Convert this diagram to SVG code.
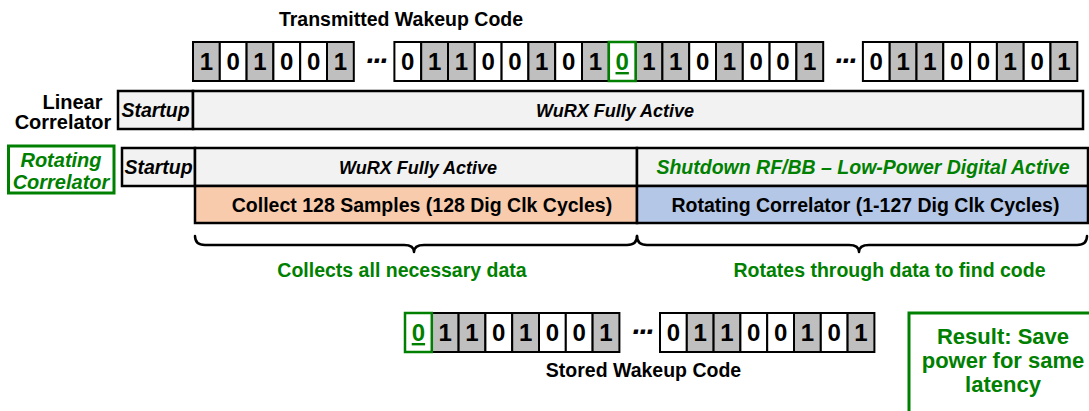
<svg xmlns="http://www.w3.org/2000/svg" width="1089" height="411" viewBox="0 0 1089 411">
<style>
text{font-family:"Liberation Sans",Arial,sans-serif;font-weight:bold;fill:#000}
.t{font-size:19.5px;text-anchor:middle}
.it{font-size:19.5px;font-style:italic;text-anchor:middle}
.w{font-size:18px;font-style:italic;text-anchor:middle}
.g{fill:#008000}
.d{font-size:24px;text-anchor:middle}
.dots{font-size:30px;font-style:italic;text-anchor:middle;letter-spacing:-3px}
.c1{fill:#bfbfbf;stroke:#000;stroke-width:2}
.c0{fill:#fff;stroke:#000;stroke-width:2}
.cg{fill:#fff;stroke:#008000;stroke-width:2.5}
.bar{stroke:#000;stroke-width:2.5}
.lg{fill:#f2f2f2}
.pe{fill:#f8cbad}
.bl{fill:#b4c7e7}
.gb{fill:#fff;stroke:#008000;stroke-width:3}
.br{fill:none;stroke:#000;stroke-width:2.5;stroke-linecap:round;stroke-linejoin:round}
.u{text-decoration:underline}
.r{font-size:22px;text-anchor:middle}
</style>

<g id="title"><text class="t" x="401" y="26">Transmitted Wakeup Code</text></g>

<g id="transmitted-code">
<rect class="c1" x="193" y="42" width="26.8" height="39"/><text class="d" x="206.4" y="70">1</text>
<rect class="c0" x="219.8" y="42" width="26.8" height="39"/><text class="d" x="233.2" y="70">0</text>
<rect class="c1" x="246.6" y="42" width="26.8" height="39"/><text class="d" x="260" y="70">1</text>
<rect class="c0" x="273.4" y="42" width="26.8" height="39"/><text class="d" x="286.8" y="70">0</text>
<rect class="c0" x="300.2" y="42" width="26.8" height="39"/><text class="d" x="313.6" y="70">0</text>
<rect class="c1" x="327" y="42" width="26.8" height="39"/><text class="d" x="340.4" y="70">1</text>
<text class="dots" x="375" y="71">···</text>
<rect class="c0" x="394.4" y="42" width="26.8" height="39"/><text class="d" x="407.8" y="70">0</text>
<rect class="c1" x="421.2" y="42" width="26.8" height="39"/><text class="d" x="434.6" y="70">1</text>
<rect class="c1" x="448" y="42" width="26.8" height="39"/><text class="d" x="461.4" y="70">1</text>
<rect class="c0" x="474.8" y="42" width="26.8" height="39"/><text class="d" x="488.2" y="70">0</text>
<rect class="c0" x="501.6" y="42" width="26.8" height="39"/><text class="d" x="515" y="70">0</text>
<rect class="c1" x="528.4" y="42" width="26.8" height="39"/><text class="d" x="541.8" y="70">1</text>
<rect class="c0" x="555.2" y="42" width="26.8" height="39"/><text class="d" x="568.6" y="70">0</text>
<rect class="c1" x="582" y="42" width="26.8" height="39"/><text class="d" x="595.4" y="70">1</text>
<rect class="c1" x="635.6" y="42" width="26.8" height="39"/><text class="d" x="649" y="70">1</text>
<rect class="c1" x="662.4" y="42" width="26.8" height="39"/><text class="d" x="675.8" y="70">1</text>
<rect class="c0" x="689.2" y="42" width="26.8" height="39"/><text class="d" x="702.6" y="70">0</text>
<rect class="c1" x="716" y="42" width="26.8" height="39"/><text class="d" x="729.4" y="70">1</text>
<rect class="c0" x="742.8" y="42" width="26.8" height="39"/><text class="d" x="756.2" y="70">0</text>
<rect class="c0" x="769.6" y="42" width="26.8" height="39"/><text class="d" x="783" y="70">0</text>
<rect class="c1" x="796.4" y="42" width="26.8" height="39"/><text class="d" x="809.8" y="70">1</text>
<rect class="cg" x="608.8" y="42" width="26.8" height="39"/><text class="d g u" x="622.2" y="70">0</text>
<text class="dots" x="844" y="71">···</text>
<rect class="c0" x="862.9" y="42" width="26.8" height="39"/><text class="d" x="876.3" y="70">0</text>
<rect class="c1" x="889.7" y="42" width="26.8" height="39"/><text class="d" x="903.1" y="70">1</text>
<rect class="c1" x="916.5" y="42" width="26.8" height="39"/><text class="d" x="929.9" y="70">1</text>
<rect class="c0" x="943.3" y="42" width="26.8" height="39"/><text class="d" x="956.7" y="70">0</text>
<rect class="c0" x="970.1" y="42" width="26.8" height="39"/><text class="d" x="983.5" y="70">0</text>
<rect class="c1" x="996.9" y="42" width="26.8" height="39"/><text class="d" x="1010.3" y="70">1</text>
<rect class="c0" x="1023.7" y="42" width="26.8" height="39"/><text class="d" x="1037.1" y="70">0</text>
<rect class="c1" x="1050.5" y="42" width="26.8" height="39"/><text class="d" x="1063.9" y="70">1</text>
</g>

<g id="linear-label">
<text class="t" x="72.5" y="109" style="font-size:20px">Linear</text>
<text class="t" x="63" y="129" style="font-size:20px">Correlator</text>
</g>

<g id="linear-startup"><rect class="bar lg" x="118" y="91" width="75" height="38"/><text class="it" x="155.5" y="117">Startup</text></g>
<g id="linear-active"><rect class="bar lg" x="193" y="91" width="890" height="38"/><text class="w" x="615" y="117">WuRX Fully Active</text></g>

<g id="rotating-label">
<rect class="gb" x="8.5" y="146" width="105.5" height="47"/>
<text class="it g" x="61" y="167" style="font-size:20px">Rotating</text>
<text class="it g" x="61" y="189" style="font-size:20px">Correlator</text>
</g>

<g id="rotating-startup"><rect class="bar lg" x="122" y="148" width="73" height="38"/><text class="it" x="158.5" y="174">Startup</text></g>
<g id="rotating-active"><rect class="bar lg" x="195" y="148" width="442" height="38"/><text class="w" x="418" y="174">WuRX Fully Active</text></g>
<g id="shutdown"><rect class="bar lg" x="637" y="148" width="451" height="38"/><text class="it g" x="863" y="174">Shutdown RF/BB – Low-Power Digital Active</text></g>
<g id="collect"><rect class="bar pe" x="195" y="186" width="442" height="37"/><text class="t" x="422" y="212">Collect 128 Samples (128 Dig Clk Cycles)</text></g>
<g id="rotate"><rect class="bar bl" x="637" y="186" width="451" height="37"/><text class="t" x="865.5" y="212">Rotating Correlator (1-127 Dig Clk Cycles)</text></g>

<g id="connectors">
<path class="br" d="M195,236 Q195,245 205,245 L404,245 Q414,245 414,252 Q414,245 424,245 L627,245 Q637,245 637,236"/>
<path class="br" d="M637,236 Q637,245 647,245 L849,245 Q859,245 859,252 Q859,245 869,245 L1077,245 Q1087,245 1087,236"/>
</g>

<g id="brace-labels">
<text class="t g" x="402" y="277">Collects all necessary data</text>
<text class="t g" x="889.5" y="277">Rotates through data to find code</text>
</g>

<g id="stored-code">
<rect class="c1" x="431.8" y="313" width="26.8" height="39"/><text class="d" x="445.2" y="341">1</text>
<rect class="c1" x="458.6" y="313" width="26.8" height="39"/><text class="d" x="472" y="341">1</text>
<rect class="c0" x="485.4" y="313" width="26.8" height="39"/><text class="d" x="498.8" y="341">0</text>
<rect class="c1" x="512.2" y="313" width="26.8" height="39"/><text class="d" x="525.6" y="341">1</text>
<rect class="c0" x="539" y="313" width="26.8" height="39"/><text class="d" x="552.4" y="341">0</text>
<rect class="c0" x="565.8" y="313" width="26.8" height="39"/><text class="d" x="579.2" y="341">0</text>
<rect class="c1" x="592.6" y="313" width="26.8" height="39"/><text class="d" x="606" y="341">1</text>
<rect class="cg" x="405" y="313" width="26.8" height="39"/><text class="d g u" x="418.4" y="341">0</text>
<text class="dots" x="641" y="342">···</text>
<rect class="c0" x="660" y="313" width="26.8" height="39"/><text class="d" x="673.4" y="341">0</text>
<rect class="c1" x="686.8" y="313" width="26.8" height="39"/><text class="d" x="700.2" y="341">1</text>
<rect class="c1" x="713.6" y="313" width="26.8" height="39"/><text class="d" x="727" y="341">1</text>
<rect class="c0" x="740.4" y="313" width="26.8" height="39"/><text class="d" x="753.8" y="341">0</text>
<rect class="c0" x="767.2" y="313" width="26.8" height="39"/><text class="d" x="780.6" y="341">0</text>
<rect class="c1" x="794" y="313" width="26.8" height="39"/><text class="d" x="807.4" y="341">1</text>
<rect class="c0" x="820.8" y="313" width="26.8" height="39"/><text class="d" x="834.2" y="341">0</text>
<rect class="c1" x="847.6" y="313" width="26.8" height="39"/><text class="d" x="861" y="341">1</text>
<text class="t" x="643.5" y="377">Stored Wakeup Code</text>
</g>

<g id="result">
<rect class="gb" x="909" y="313" width="200" height="120"/>
<text class="r g" x="1003" y="344">Result: Save</text>
<text class="r g" x="1003" y="368">power for same</text>
<text class="r g" x="1003" y="392">latency</text>
</g>
</svg>
